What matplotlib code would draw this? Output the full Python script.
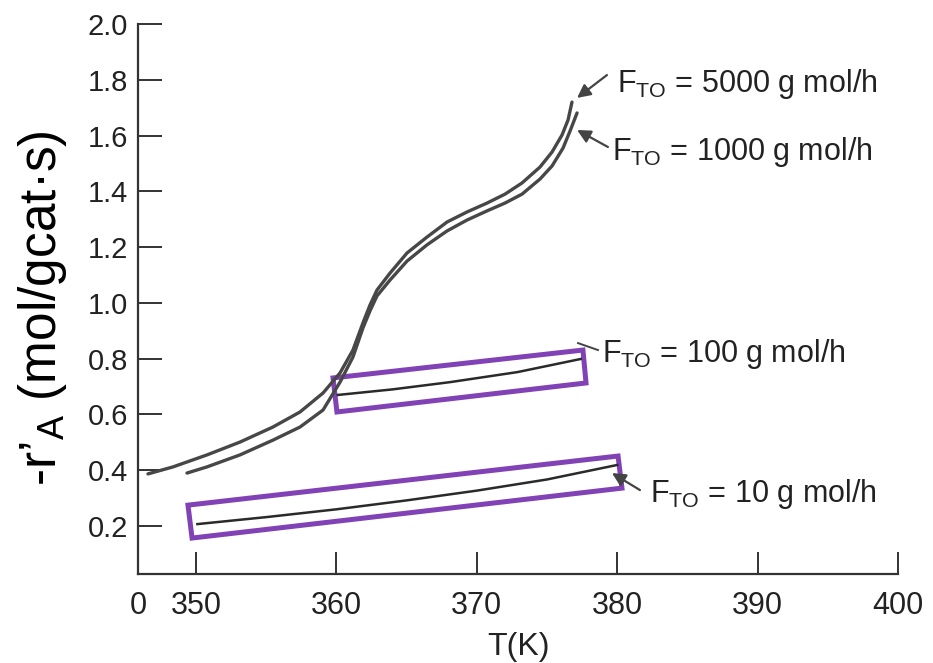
import matplotlib
matplotlib.use("Agg")
import matplotlib.pyplot as plt
from matplotlib.patches import Polygon

plt.rcParams['font.family'] = ['Liberation Sans', 'DejaVu Sans']
plt.rcParams['mathtext.fontset'] = 'custom'
plt.rcParams['mathtext.rm'] = 'Liberation Sans'
plt.rcParams['mathtext.it'] = 'Liberation Sans:italic'

# data
t_5000 = [346.58, 348.36, 350.78, 353.13, 355.48, 357.41, 359.05, 360.26, 361.18, 361.89,
          362.39, 362.89, 363.82, 365.03, 366.45, 367.88, 369.30, 370.73, 372.01, 373.22,
          374.50, 375.36, 376.07, 376.50, 376.78]
r_5000 = [0.387, 0.412, 0.455, 0.501, 0.555, 0.609, 0.677, 0.749, 0.831, 0.928,
          0.992, 1.046, 1.107, 1.179, 1.236, 1.290, 1.326, 1.358, 1.390, 1.430,
          1.487, 1.541, 1.602, 1.656, 1.720]

t_1000 = [349.36, 350.78, 353.13, 355.48, 357.41, 359.05, 360.26, 361.18, 361.89, 362.39,
          362.89, 363.82, 365.03, 366.45, 367.88, 369.30, 370.73, 372.01, 373.22, 374.50,
          375.36, 376.14, 376.64, 377.14]
r_1000 = [0.390, 0.412, 0.455, 0.508, 0.555, 0.616, 0.716, 0.806, 0.910, 0.971,
          1.025, 1.082, 1.150, 1.208, 1.258, 1.297, 1.330, 1.358, 1.390, 1.444,
          1.491, 1.555, 1.616, 1.681]

t_100 = [360.1, 364.0, 368.1, 372.9, 377.4]
r_100 = [0.670, 0.690, 0.716, 0.752, 0.799]

t_10 = [350.1, 355.0, 360.0, 365.0, 370.0, 375.0, 380.0]
r_10 = [0.207, 0.232, 0.260, 0.292, 0.327, 0.367, 0.419]

# highlight boxes (corners)
box_100 = [(359.76, 0.731), (377.56, 0.831), (377.78, 0.713), (360.04, 0.609)]
box_10 = [(349.43, 0.275), (380.06, 0.451), (380.34, 0.336), (349.72, 0.157)]

x_ticks = [345.87, 350, 360, 370, 380, 390, 400]
x_labels = ['0', '350', '360', '370', '380', '390', '400']
y_ticks = [0.2, 0.4, 0.6, 0.8, 1.0, 1.2, 1.4, 1.6, 1.8, 2.0]

fig = plt.figure(figsize=(9.33, 6.63), dpi=100)
ax = fig.add_axes([0.1479, 0.1342, 0.8146, 0.8296])

curve_col = '#474747'
ax.plot(t_5000, r_5000, color=curve_col, lw=2.4, solid_capstyle='round', solid_joinstyle='round')
ax.plot(t_1000, r_1000, color=curve_col, lw=2.4, solid_capstyle='round', solid_joinstyle='round')
ax.plot(t_100, r_100, color='#2a2a2a', lw=1.8)
ax.plot(t_10, r_10, color='#2a2a2a', lw=1.8)

purple = '#8042B5'
for box in (box_100, box_10):
    ax.add_patch(Polygon(box, closed=True, fill=False, edgecolor=purple, lw=3.6, joinstyle='miter'))

# labels with arrows
arrow_kw = dict(arrowstyle='-|>', color='#444444', lw=1.6, mutation_scale=20, shrinkA=0, shrinkB=0)
ax.annotate('', xy=(377.14, 1.735), xytext=(379.27, 1.817), arrowprops=arrow_kw)
ax.annotate('', xy=(377.14, 1.620), xytext=(379.34, 1.559), arrowprops=arrow_kw)
ax.annotate('', xy=(379.63, 0.390), xytext=(381.62, 0.329), arrowprops=arrow_kw)
ax.plot([377.21, 378.63], [0.856, 0.831], color='#444444', lw=1.4)

lab_fs = 22
ax.text(379.99, 1.756, r'F$_{\mathrm{TO}}$ = 5000 g mol/h', fontsize=lab_fs, va='baseline', color='#222222')
ax.text(379.63, 1.512, r'F$_{\mathrm{TO}}$ = 1000 g mol/h', fontsize=lab_fs, va='baseline', color='#222222')
ax.text(378.92, 0.788, r'F$_{\mathrm{TO}}$ = 100 g mol/h', fontsize=lab_fs, va='baseline', color='#222222')
ax.text(382.34, 0.286, r'F$_{\mathrm{TO}}$ = 10 g mol/h', fontsize=lab_fs, va='baseline', color='#222222')

ax.set_xlim(345.87, 400)
ax.set_ylim(0.028, 2.0)
ax.set_xticks(x_ticks)
ax.set_xticklabels(x_labels)
ax.set_yticks(y_ticks)
ax.set_yticklabels([f'{v:.1f}' for v in y_ticks])
ax.xaxis.get_major_ticks()[0].tick1line.set_visible(False)

for s in ('top', 'right'):
    ax.spines[s].set_visible(False)
for s in ('left', 'bottom'):
    ax.spines[s].set_color('#333333')
    ax.spines[s].set_linewidth(1.6)

ax.tick_params(axis='x', direction='in', length=16, width=1.4, color='#333333',
               labelsize=22, pad=12, labelcolor='#222222')
ax.tick_params(axis='y', direction='in', length=17, width=1.4, color='#333333',
               labelsize=21, pad=7, labelcolor='#222222')

ax.set_xlabel('T(K)', fontsize=23, labelpad=8, color='#222222')
fig.text(43 / 933, 1 - 308 / 663, r'-r’$_{\mathrm{A}}$ (mol/gcat·s)', fontsize=37,
         rotation=90, ha='center', va='center', color='black')

fig.savefig('out.png', dpi=100)
